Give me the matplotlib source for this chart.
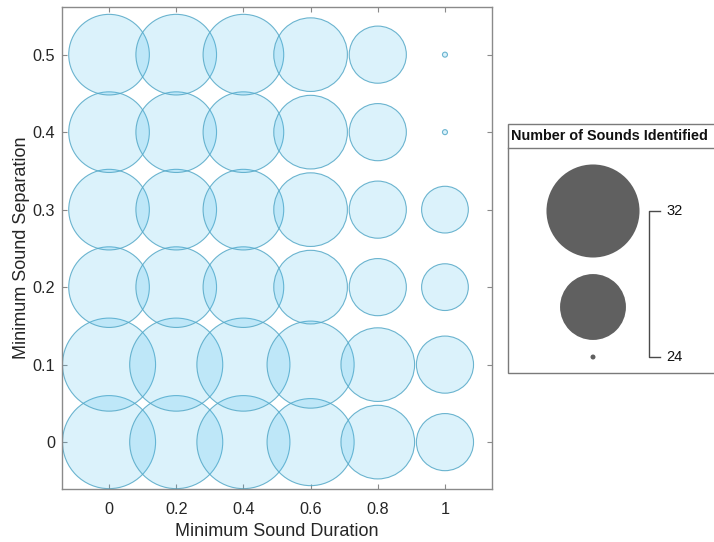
import matplotlib
matplotlib.use("Agg")
import matplotlib.pyplot as plt
import numpy as np

plt.rcParams["font.family"] = ["Liberation Sans", "DejaVu Sans"]

# Grid of test conditions
durations = [0, 0.2, 0.4, 0.6, 0.8, 1.0]
separations = [0, 0.1, 0.2, 0.3, 0.4, 0.5]

# Number of sounds identified; one row per separation, one column per duration
sounds_identified = [
    [32, 32, 32, 31, 29, 27],  # separation 0
    [32, 32, 32, 31, 29, 27],  # separation 0.1
    [30, 30, 30, 29, 27, 26],  # separation 0.2
    [30, 30, 30, 29, 27, 26],  # separation 0.3
    [30, 30, 30, 29, 27, 24],  # separation 0.4
    [30, 30, 30, 29, 27, 24],  # separation 0.5
]

x_tick_values = [0, 0.2, 0.4, 0.6, 0.8, 1.0]
x_tick_labels = ["0", "0.2", "0.4", "0.6", "0.8", "1"]
y_tick_values = [0, 0.1, 0.2, 0.3, 0.4, 0.5]
y_tick_labels = ["0", "0.1", "0.2", "0.3", "0.4", "0.5"]

legend_values = [32, 28, 24]
legend_labels = ["32", "24"]

# Bubble diameters (points), interpolated linearly in area
D_MIN, D_MAX = 3.6, 67.0
V_MIN, V_MAX = 24, 32


def bubble_area(v):
    v = np.asarray(v, dtype=float)
    t = (v - V_MIN) / (V_MAX - V_MIN)
    return D_MIN ** 2 + t * (D_MAX ** 2 - D_MIN ** 2)


W, H, DPI = 714, 542, 100
fig = plt.figure(figsize=(W / DPI, H / DPI), dpi=DPI)
fig.patch.set_facecolor("white")

# Main bubble axes
ax = fig.add_axes([62 / W, 1 - 489 / H, 430 / W, 482 / H])
X, Y = np.meshgrid(durations, separations)
vals = np.array(sounds_identified)
ax.scatter(X.ravel(), Y.ravel(), s=bubble_area(vals.ravel()),
           facecolor=(0.301, 0.745, 0.933, 0.2),
           edgecolor=(0.33, 0.66, 0.78, 0.85), linewidth=0.8, zorder=2)

ax.set_xlim(-0.14, 1.14)
ax.set_ylim(-0.0605, 0.5615)
ax.set_xticks(x_tick_values)
ax.set_xticklabels(x_tick_labels)
ax.set_yticks(y_tick_values)
ax.set_yticklabels(y_tick_labels)
frame_gray = "#8a8a8a"
for sp in ax.spines.values():
    sp.set_color(frame_gray)
    sp.set_linewidth(1.0)
ax.tick_params(direction="in", length=3.5, width=0.8, color=frame_gray,
               top=True, right=True, labelsize=11.7, labelcolor="#262626")
ax.tick_params(axis="x", pad=9)
ax.tick_params(axis="y", pad=5)
ax.set_xlabel("Minimum Sound Duration", fontsize=13, color="#262626", labelpad=5)
ax.set_ylabel("Minimum Sound Separation", fontsize=13, color="#262626", labelpad=2)

# Size legend drawn in pixel coordinates on an overlay
lg = fig.add_axes([0, 0, 1, 1], zorder=5)
lg.set_xlim(0, W)
lg.set_ylim(H, 0)
lg.axis("off")
lg.patch.set_alpha(0)

box_l, box_t, box_b, box_r = 508, 124, 373, 730
box_gray = "#7a7a7a"
lg.plot([box_r, box_l, box_l, box_r], [box_t, box_t, box_b, box_b],
        color=box_gray, lw=1.0, clip_on=False, solid_joinstyle="miter")
lg.plot([box_l, box_r], [148, 148], color=box_gray, lw=1.0)
lg.text(511, 136.5, "Number of Sounds Identified", fontsize=10.4,
        fontweight="bold", ha="left", va="center", color="#111111")

circle_x = 593
circle_y = [211, 307, 357]
lg.scatter([circle_x] * 3, circle_y, s=bubble_area(legend_values),
           color="#606060", edgecolor="none", zorder=3)

# Bracket connecting the largest and smallest sizes
bx = 649
lg.plot([660, bx, bx, 660], [211, 211, 357, 357], color="#4a4a4a", lw=1.0)
lg.text(666, 211, legend_labels[0], fontsize=10.5, ha="left", va="center",
        color="#111111")
lg.text(666, 357, legend_labels[1], fontsize=10.5, ha="left", va="center",
        color="#111111")

fig.savefig("out.png", dpi=DPI, facecolor="white")
